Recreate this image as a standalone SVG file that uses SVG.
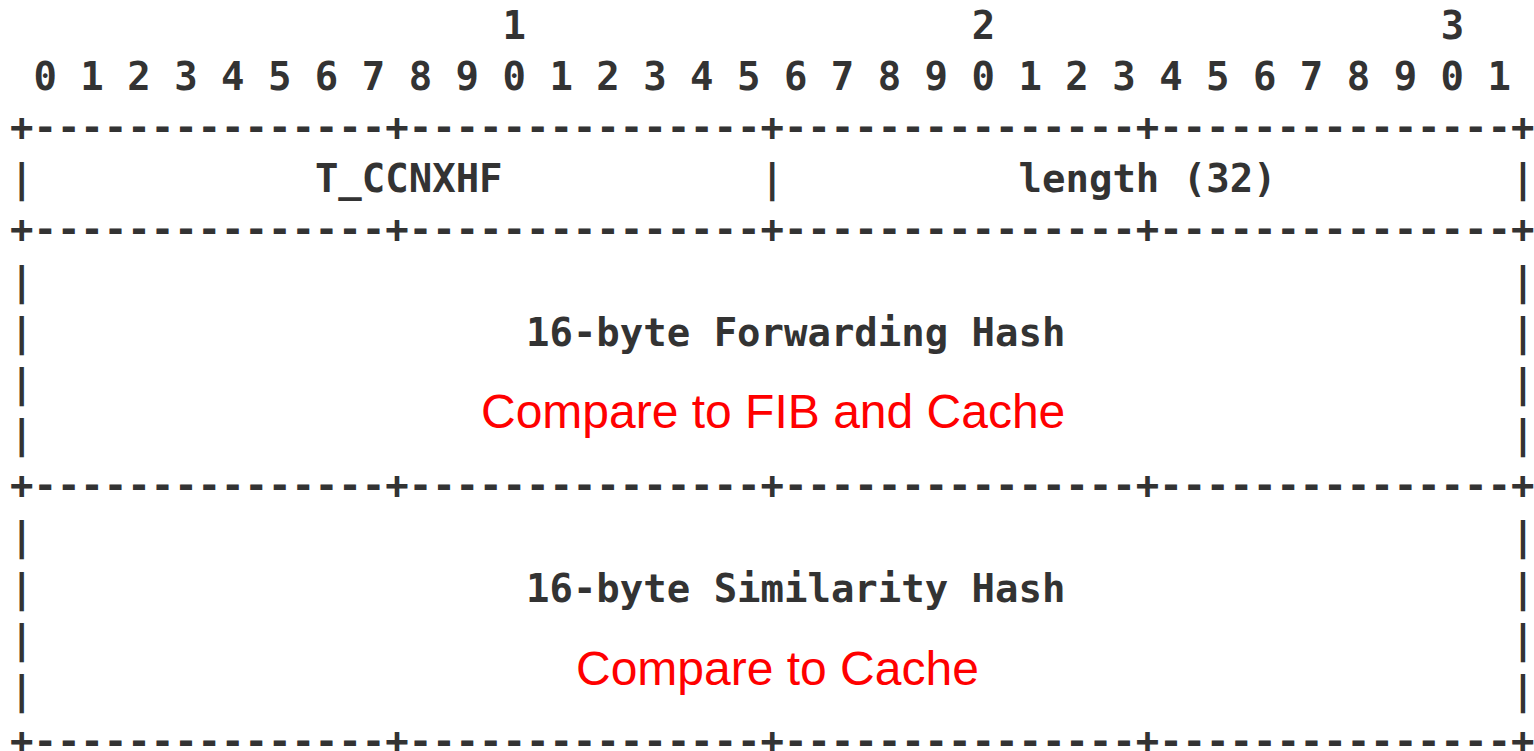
<svg xmlns="http://www.w3.org/2000/svg" width="1534" height="751" viewBox="0 0 1534 751">
  <style>
    .m { font-family: "DejaVu Sans Mono", "Liberation Mono", monospace; font-weight: bold; font-size: 38.96px; fill: #333333; white-space: pre; }
    .r { font-family: "Liberation Sans", Arial, sans-serif; font-size: 48px; fill: #ff0000; }
  </style>
  <rect width="1534" height="751" fill="#ffffff"/>
  <g id="ruler">
    <text class="m" x="502.58" y="38.7">1</text>
    <text class="m" x="971.7" y="38.7">2</text>
    <text class="m" x="1440.8" y="38.7">3</text>
    <text class="m" x="33.46" y="90">0 1 2 3 4 5 6 7 8 9 0 1 2 3 4 5 6 7 8 9 0 1 2 3 4 5 6 7 8 9 0 1</text>
  </g>
  <g id="borders">
    <text class="m" x="10" y="141.15">+---------------+---------------+---------------+---------------+</text>
    <text class="m" x="10" y="243.45">+---------------+---------------+---------------+---------------+</text>
    <text class="m" x="10" y="499.2">+---------------+---------------+---------------+---------------+</text>
    <text class="m" x="10" y="754.95">+---------------+---------------+---------------+---------------+</text>
  </g>
  <g id="field-t-ccnxhf">
    <text class="m" x="10" y="192.3">|</text>
    <text class="m" x="314.93" y="192.3">T_CCNXHF</text>
  </g>
  <g id="field-length">
    <text class="m" x="760.6" y="192.3">|</text>
    <text class="m" x="1018.6" y="192.3">length (32)</text>
    <text class="m" x="1511.2" y="192.3">|</text>
  </g>
  <g id="field-forwarding-hash">
    <text class="m" x="10" y="294.6">|</text>
    <text class="m" x="1511.2" y="294.6">|</text>
    <text class="m" x="10" y="345.75">|</text>
    <text class="m" x="526.03" y="345.75">16-byte Forwarding Hash</text>
    <text class="m" x="1511.2" y="345.75">|</text>
    <text class="m" x="10" y="396.9">|</text>
    <text class="m" x="1511.2" y="396.9">|</text>
    <text class="m" x="10" y="448.05">|</text>
    <text class="m" x="1511.2" y="448.05">|</text>
    <text class="r" x="481" y="427.7">Compare to FIB and Cache</text>
  </g>
  <g id="field-similarity-hash">
    <text class="m" x="10" y="550.35">|</text>
    <text class="m" x="1511.2" y="550.35">|</text>
    <text class="m" x="10" y="601.5">|</text>
    <text class="m" x="526.03" y="601.5">16-byte Similarity Hash</text>
    <text class="m" x="1511.2" y="601.5">|</text>
    <text class="m" x="10" y="652.65">|</text>
    <text class="m" x="1511.2" y="652.65">|</text>
    <text class="m" x="10" y="703.8">|</text>
    <text class="m" x="1511.2" y="703.8">|</text>
    <text class="r" x="576" y="685">Compare to Cache</text>
  </g>
  <g id="connectors"/>
</svg>
